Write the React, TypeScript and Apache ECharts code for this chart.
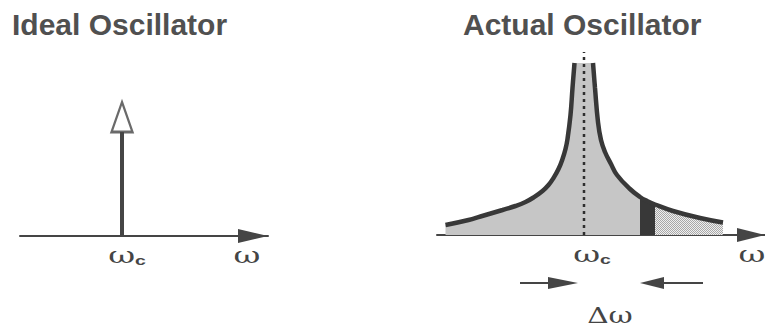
import React, { useEffect, useRef } from 'react';
import * as echarts from 'echarts';

// Axis units: 10 px per unit, x measured from the carrier ωc.

// Ideal oscillator: a single impulse at ωc
const impulseX = [0];
const impulseStem = [10.4];
const impulseHeadCenter = [11.9];

// Actual oscillator: spectral skirt around ωc
const leftFlankX = [-13.85, -11.55, -10.35, -8.15, -6.85, -5.85, -5.05, -4.15, -3.55, -3.05, -2.55, -2.15, -1.85, -1.65, -1.35, -1.15, -0.95];
const leftFlankY = [1.0, 1.5, 1.85, 2.5, 2.9, 3.3, 3.75, 4.4, 5.0, 5.7, 6.6, 7.6, 8.6, 9.6, 12.0, 14.7, 17.2];
const rightFlankX = [0.9, 1.1, 1.4, 1.7, 2.1, 2.7, 3.3, 4.6, 5.6, 6.3, 7.1, 8.9, 11.6, 13.9];
const rightFlankY = [17.2, 14.7, 11.3, 9.5, 8.3, 7.1, 6.0, 4.6, 3.8, 3.4, 3.05, 2.4, 1.7, 1.25];

// Narrow band at offset Δω and the tail beyond it
const bandStart = 5.6;
const bandEnd = 7.1;
const centerLineTop = 18.3;

// Δω dimension arrows (tail, tip) and label position
const deltaArrowY = -4.8;
const deltaArrowLeft = [-6.4, -0.6];
const deltaArrowRight = [11.9, 5.6];
const deltaLabelPos = [2.6, -8.0];

// Axis labels under each frequency axis
const tickLabelY = -1.9;
const leftTickLabelX = [0.5, 12.5];
const rightTickLabelX = [0.8, 16.8];
const tickLabelText = ['{w|ω}{c|c}', '{w|ω}'];

const INK = '#454545';
const DARK = '#383838';
const FILL = '#c6c6c6';

function zip(xs: number[], ys: number[]) {
  return xs.map((x, i) => [x, ys[i]]);
}

function dotPattern() {
  const c = document.createElement('canvas');
  c.width = 2;
  c.height = 2;
  const ctx = c.getContext('2d')!;
  ctx.fillStyle = '#efefef';
  ctx.fillRect(0, 0, 2, 2);
  ctx.fillStyle = '#a8a8a8';
  ctx.fillRect(0, 0, 1, 1);
  ctx.fillRect(1, 1, 1, 1);
  return c;
}

export default function App() {
  const ref = useRef<HTMLDivElement>(null);

  useEffect(() => {
    if (!ref.current) return;
    const chart = echarts.init(ref.current, undefined, { renderer: 'svg' });

    const leftFlank = zip(leftFlankX, leftFlankY);
    const rightFlank = zip(rightFlankX, rightFlankY);
    const skirt = leftFlank.concat(rightFlank);
    const mainFill = skirt.filter((p) => p[0] <= bandStart);
    const bandFill = skirt.filter((p) => p[0] >= bandStart && p[0] <= bandEnd);
    const tailFill = skirt.filter((p) => p[0] >= bandEnd);

    const xAxisBase = (gridIndex: number, min: number, max: number, arrowLen: number) => ({
      type: 'value',
      gridIndex,
      min,
      max,
      splitLine: { show: false },
      axisTick: { show: false },
      axisLabel: { show: false },
      axisLine: {
        show: true,
        onZero: false,
        lineStyle: { color: INK, width: 2 },
        symbol: ['none', 'triangle'],
        symbolSize: [14, arrowLen],
        symbolOffset: [0, -arrowLen / 2],
      },
    });

    const yAxisBase = (gridIndex: number) => ({
      type: 'value',
      gridIndex,
      min: 0,
      max: 20,
      show: false,
    });

    const titleStyle = {
      fontFamily: 'Liberation Sans',
      fontWeight: 'bold',
      fontSize: 30,
      color: '#505050',
    };

    const smoothLine = {
      type: 'line',
      xAxisIndex: 1,
      yAxisIndex: 1,
      smooth: 0.45,
      symbol: 'none',
    };

    chart.setOption({
      animation: false,
      backgroundColor: '#ffffff',
      title: [
        { text: 'Ideal Oscillator', left: 7, top: 4, textStyle: titleStyle },
        { text: 'Actual Oscillator', left: 458, top: 4, textStyle: titleStyle },
      ],
      grid: [
        { left: 20, top: 36, width: 248, height: 200 },
        { left: 437, top: 35, width: 328, height: 200 },
      ],
      xAxis: [xAxisBase(0, -10.2, 14.6, 30), xAxisBase(1, -14.7, 18.1, 28)],
      yAxis: [yAxisBase(0), yAxisBase(1)],
      series: [
        {
          type: 'line',
          xAxisIndex: 0,
          yAxisIndex: 0,
          data: impulseX.map((x, i) => [[x, 0], [x, impulseStem[i]]]).flat(),
          symbol: 'none',
          lineStyle: { color: INK, width: 4 },
          z: 3,
        },
        {
          type: 'scatter',
          xAxisIndex: 0,
          yAxisIndex: 0,
          data: impulseX.map((x, i) => [x, impulseHeadCenter[i]]),
          symbol: 'triangle',
          symbolSize: [21, 30],
          itemStyle: { color: '#ffffff', borderColor: INK, borderWidth: 2.5 },
          z: 4,
        },
        {
          ...smoothLine,
          data: mainFill,
          lineStyle: { width: 0 },
          areaStyle: { color: FILL, opacity: 1 },
          z: 1,
        },
        {
          ...smoothLine,
          data: bandFill,
          lineStyle: { width: 0 },
          areaStyle: { color: DARK, opacity: 1 },
          z: 1,
        },
        {
          ...smoothLine,
          data: tailFill,
          lineStyle: { width: 0 },
          areaStyle: { color: { image: dotPattern(), repeat: 'repeat' }, opacity: 1 },
          z: 1,
        },
        {
          type: 'line',
          xAxisIndex: 1,
          yAxisIndex: 1,
          data: [[0, 0], [0, centerLineTop]],
          symbol: 'none',
          clip: false,
          lineStyle: { color: '#2e2e2e', width: 2.5, type: [3, 4] },
          z: 2,
        },
        {
          ...smoothLine,
          data: leftFlank,
          lineStyle: { color: DARK, width: 4.5, cap: 'butt' },
          z: 3,
        },
        {
          ...smoothLine,
          data: rightFlank,
          lineStyle: { color: DARK, width: 4.5, cap: 'butt' },
          z: 3,
        },
      ],
    });

    // Annotations placed through each grid's scales
    const px = (grid: number, p: number[]) => chart.convertToPixel({ gridIndex: grid }, p) as number[];

    const arrow = (tailX: number, tipX: number, headLen: number) => {
      const tail = px(1, [tailX, deltaArrowY]);
      const tip = px(1, [tipX, deltaArrowY]);
      const dir = tip[0] > tail[0] ? 1 : -1;
      const base = tip[0] - dir * headLen;
      return [
        {
          type: 'line',
          shape: { x1: tail[0], y1: tail[1], x2: base, y2: tip[1] },
          style: { stroke: INK, lineWidth: 2 },
        },
        {
          type: 'polygon',
          shape: { points: [[tip[0], tip[1]], [base, tip[1] - 6], [base, tip[1] + 6]] },
          style: { fill: INK },
        },
      ];
    };

    const rich = {
      w: { fontFamily: 'DejaVu Serif', fontSize: 22, fill: INK, lineHeight: 24, verticalAlign: 'bottom' },
      c: {
        fontFamily: 'Liberation Sans',
        fontWeight: 'bold',
        fontSize: 13,
        fill: INK,
        lineHeight: 12,
        verticalAlign: 'bottom',
      },
    };
    const tickText = (grid: number, xs: number[]) =>
      xs.map((x, i) => {
        const p = px(grid, [x, tickLabelY]);
        return {
          type: 'text',
          x: p[0],
          y: p[1],
          scaleX: 1.5,
          style: {
            text: tickLabelText[i],
            rich,
            fill: INK,
            align: 'center',
            verticalAlign: 'middle',
          },
        };
      });

    const lbl = px(1, deltaLabelPos);
    chart.setOption({
      graphic: [
        ...tickText(0, leftTickLabelX),
        ...tickText(1, rightTickLabelX),
        ...arrow(deltaArrowLeft[0], deltaArrowLeft[1], 30),
        ...arrow(deltaArrowRight[0], deltaArrowRight[1], 24),
        {
          type: 'text',
          x: lbl[0],
          y: lbl[1],
          scaleX: 1.35,
          style: {
            text: 'Δω',
            fill: INK,
            font: '22px "DejaVu Serif"',
            align: 'center',
            verticalAlign: 'middle',
          },
        },
      ],
    });

    return () => chart.dispose();
  }, []);

  return (
    <div
      ref={ref}
      style={{ position: 'fixed', left: 0, top: 0, width: 765, height: 328, background: '#fff' }}
    />
  );
}
